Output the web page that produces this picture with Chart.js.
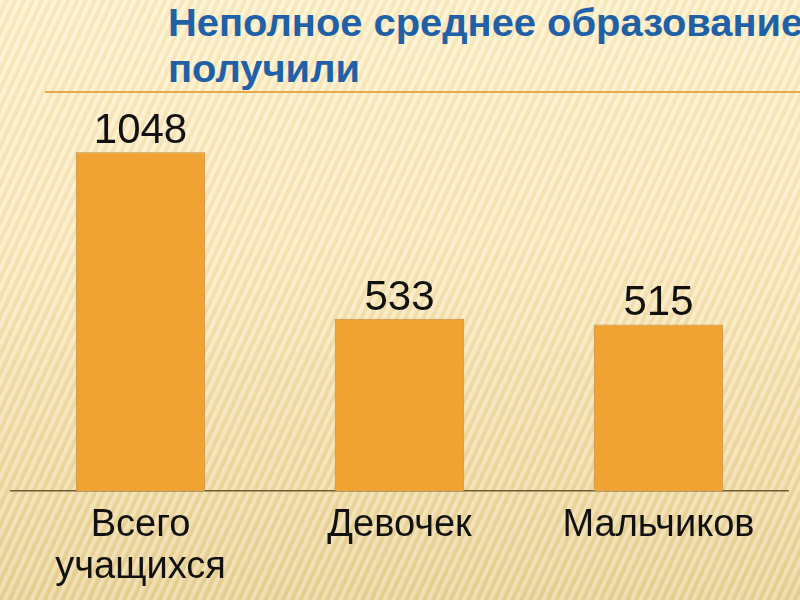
<!DOCTYPE html>
<html lang="ru">
<head>
    <meta charset="UTF-8">
    <title>Неполное среднее образование получили</title>
    <script src="https://cdn.jsdelivr.net/npm/chart.js"></script>
    <style>
        html, body {
            margin: 0;
            padding: 0;
        }
        body {
            width: 800px;
            height: 600px;
            position: relative;
            overflow: hidden;
            background:
                repeating-linear-gradient(115deg, rgba(255,255,255,0.28) 0px, rgba(255,255,255,0.28) 3px, rgba(190,150,60,0.09) 5px, rgba(190,150,60,0.09) 8px),
                linear-gradient(180deg, #fdf0c8 0%, #fbe9bd 40%, #f1dca6 75%, #e9d297 100%);
        }
        #title {
            position: absolute;
            left: 168px;
            top: 0px;
            font-family: "Liberation Sans", Arial, sans-serif;
            font-weight: bold;
            font-size: 39px;
            line-height: 46px;
            color: #1f60a6;
            white-space: nowrap;
            transform-origin: 0 0;
        }
        #rule {
            position: absolute;
            left: 45px;
            top: 91px;
            width: 760px;
            height: 2px;
            background: #e8a94a;
        }
        #wrap {
            position: absolute;
            left: 0;
            top: 0;
            width: 800px;
            height: 600px;
        }
    </style>
</head>
<body>
    <div id="title">Неполное среднее образование<br><span id="t2">получили</span></div>
    <div id="rule"></div>
    <div id="wrap"><canvas id="myChart" width="800" height="600"></canvas></div>

    <script>
        const categories = [['Всего', 'учащихся'], 'Девочек', 'Мальчиков'];
        const values = [1048, 533, 515];

        // узкий шрифт заголовка: сжимаем по ширине
        const t2 = document.getElementById('t2');
        const w = t2.getBoundingClientRect().width;
        document.getElementById('title').style.transform = 'scaleX(' + (192 / w) + ')';

        // подписи значений над столбцами
        const valueLabels = {
            id: 'valueLabels',
            afterDatasetsDraw(chart) {
                const ctx = chart.ctx;
                const meta = chart.getDatasetMeta(0);
                ctx.save();
                ctx.font = '42px "Liberation Sans", Arial, sans-serif';
                ctx.fillStyle = '#111';
                ctx.textAlign = 'center';
                ctx.textBaseline = 'alphabetic';
                meta.data.forEach((bar, i) => {
                    ctx.fillText(String(values[i]), bar.x, bar.y - 9);
                });
                ctx.restore();
            }
        };

        const ctx = document.getElementById('myChart').getContext('2d');
        new Chart(ctx, {
            type: 'bar',
            data: {
                labels: categories,
                datasets: [{
                    data: values,
                    backgroundColor: '#f0a332',
                    borderColor: '#bf8a40',
                    borderWidth: 1,
                    barPercentage: 1,
                    categoryPercentage: 0.5
                }]
            },
            options: {
                responsive: false,
                animation: false,
                layout: {
                    padding: { top: 103, left: 11, right: 12, bottom: 0 }
                },
                plugins: {
                    legend: { display: false },
                    tooltip: { enabled: false }
                },
                scales: {
                    y: {
                        display: false,
                        min: 0,
                        max: 1200
                    },
                    x: {
                        grid: { display: false, drawTicks: false },
                        border: { display: true, color: '#6e5c34', width: 1.5 },
                        ticks: {
                            color: '#111',
                            padding: 14,
                            font: { family: '"Liberation Sans", Arial, sans-serif', size: 38, lineHeight: 1.1 }
                        },
                        afterFit(scale) {
                            scale.height = 109;
                        }
                    }
                }
            },
            plugins: [valueLabels]
        });
    </script>
</body>
</html>
